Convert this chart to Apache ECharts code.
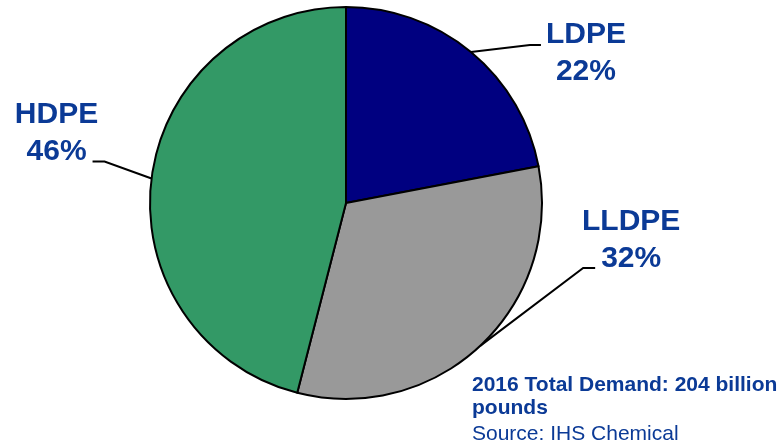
<!DOCTYPE html>
<html>
<head>
<meta charset="utf-8">
<script src="https://cdn.jsdelivr.net/npm/echarts@6/dist/echarts.min.js"></script>
<style>
  html, body { margin: 0; padding: 0; background: #fff; }
  #chart { width: 782px; height: 446px; }
</style>
</head>
<body>
<div id="chart"></div>
<script>
// Polyethylene demand split by resin type (share of total, %)
const resins = ['LDPE', 'LLDPE', 'HDPE'];
const shares = [22, 32, 46];
const sliceColors = ['#000080', '#999999', '#339966'];
const noteLines = ['2016 Total Demand: 204 billion', 'pounds'];
const sourceLine = 'Source: IHS Chemical';

const labelBlue = '#0b3a96';

// Callout placement relative to each slice's edge point:
// elbow / end of the leader line and the centre of the label block.
const callouts = {
  LDPE:  { elbow: [59, -7],   end: [70, -7],   text: [115, 1] },
  LLDPE: { elbow: [103, -78], end: [115, -78], text: [151, -106] },
  HDPE:  { elbow: [-47, -17], end: [-59, -17], text: [-95, -45] }
};

const chart = echarts.init(document.getElementById('chart'), null, { renderer: 'canvas' });

const data = resins.map((name, i) => ({
  name: name,
  value: shares[i],
  itemStyle: { color: sliceColors[i] }
}));

chart.setOption({
  animation: false,
  backgroundColor: '#ffffff',
  title: {
    text: noteLines.join('\n'),
    subtext: sourceLine,
    left: 467,
    top: 369,
    itemGap: 0,
    textStyle: {
      fontFamily: 'Liberation Sans, Arial, sans-serif',
      fontSize: 21,
      fontWeight: 'bold',
      color: labelBlue,
      lineHeight: 23
    },
    subtextStyle: {
      fontFamily: 'Liberation Sans, Arial, sans-serif',
      fontSize: 21,
      fontWeight: 'normal',
      color: labelBlue,
      lineHeight: 28
    }
  },
  series: [{
    type: 'pie',
    center: [346, 203],
    radius: 196,
    startAngle: 90,
    clockwise: true,
    silent: true,
    data: data,
    itemStyle: { borderColor: '#000', borderWidth: 2 },
    label: {
      show: true,
      position: 'outside',
      formatter: p => p.name + '\n' + p.value + '%',
      fontFamily: 'Liberation Sans, Arial, sans-serif',
      fontSize: 30,
      fontWeight: 'bold',
      lineHeight: 37,
      color: labelBlue,
      align: 'center'
    },
    labelLine: {
      show: true,
      length: 20,
      length2: 10,
      lineStyle: { color: '#000', width: 2 }
    },
    labelLayout: function (params) {
      const name = resins[params.dataIndex];
      const c = callouts[name];
      const p0 = params.labelLinePoints[0];
      return {
        x: p0[0] + c.text[0],
        y: p0[1] + c.text[1],
        align: 'center',
        verticalAlign: 'middle',
        labelLinePoints: [
          [p0[0], p0[1]],
          [p0[0] + c.elbow[0], p0[1] + c.elbow[1]],
          [p0[0] + c.end[0], p0[1] + c.end[1]]
        ]
      };
    }
  }]
});
</script>
</body>
</html>
